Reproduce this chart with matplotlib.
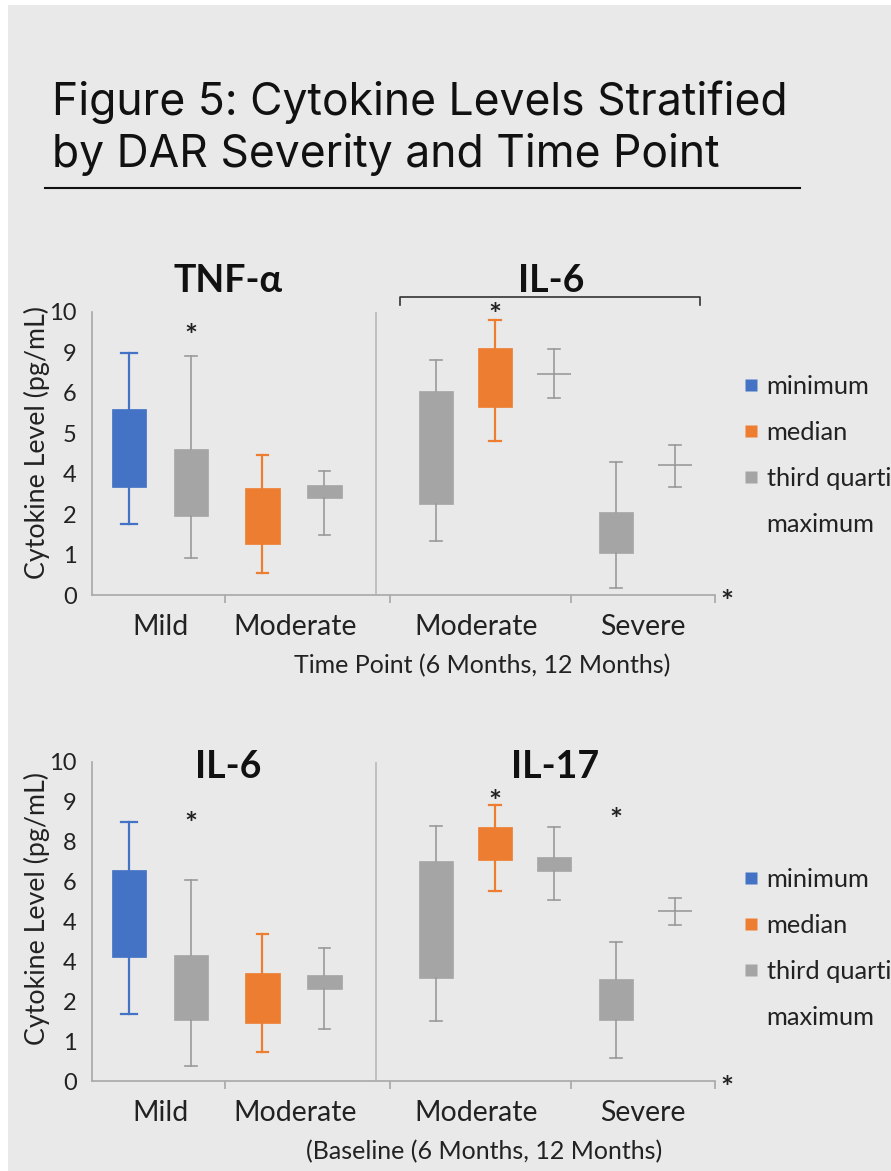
import matplotlib
matplotlib.use("Agg")
import matplotlib.pyplot as plt
from matplotlib.lines import Line2D
from matplotlib.patches import Rectangle

# ---- data (values are read in axis-position units; tick labels as printed) ----
cat_labels = ["Mild", "Moderate", "Moderate", "Severe"]
legend_labels = ["minimum", "median", "third quartile", "maximum"]

top_yticklabels = ["0", "1", "2", "4", "5", "6", "9", "10"]
bot_yticklabels = ["0", "1", "2", "4", "4", "6", "8", "9", "10"]

# nine boxes per row, left to right
box_kind = ["min", "q3", "med", "q3", "q3", "med", "q3", "q3", "q3"]

top_lo = [1.75, 0.91, 0.55, 1.48, 1.34, 3.81, 4.87, 0.17, 2.66]
top_q1 = [2.67, 1.96, 1.25, 2.39, 2.26, 4.65, 5.46, 1.05, 3.21]
top_q3 = [4.59, 3.61, 2.65, 2.72, 5.03, 6.11, 5.46, 2.04, 3.21]
top_hi = [5.98, 5.91, 3.45, 3.06, 5.80, 6.79, 6.09, 3.28, 3.70]

bot_lo = [1.67, 0.38, 0.73, 1.30, 1.51, 4.77, 4.55, 0.57, 3.92]
bot_q1 = [3.12, 1.54, 1.46, 2.31, 2.59, 5.54, 5.26, 1.52, 4.26]
bot_q3 = [5.28, 3.15, 2.70, 2.66, 5.51, 6.36, 5.61, 2.57, 4.26]
bot_hi = [6.49, 5.05, 3.68, 3.33, 6.40, 6.91, 6.36, 3.48, 4.60]

# significance stars: (box index, level)
top_stars = [(1, 6.58), (5, 7.09)]
bot_stars = [(1, 6.61), (5, 7.17), (7, 6.72)]

# ---- styling ----
W, H = 891, 1171
BLUE, ORANGE, GREY = "#4472C4", "#ED7D31", "#A5A5A5"
WHISK_GREY = "#9a9a9a"
kind_color = {"min": BLUE, "med": ORANGE, "q3": GREY}
FONT = ["Lato", "DejaVu Sans"]

xpos = [0.6, 1.6, 2.75, 3.75, 5.55, 6.5, 7.45, 8.45, 9.4]
cat_x = [1.1, 3.27, 6.2, 8.89]
sep_ticks = [2.15, 4.81, 7.73, 10.05]
divider_x = 4.58

plt.rcParams["font.family"] = FONT


def fx(px):
    return px / W


def fy(py):
    return 1 - py / H


fig = plt.figure(figsize=(W / 100, H / 100), dpi=100, facecolor="white")
fig.patches.append(Rectangle((fx(8), 0), 1, fy(5), transform=fig.transFigure,
                             facecolor="#e9e9e9", edgecolor="none", zorder=-10))

# main title
fig.text(fx(52), fy(115), "Figure 5: Cytokine Levels Stratified", fontsize=32,
         family=["Inter", "DejaVu Sans"], va="baseline", ha="left", color="#111")
fig.text(fx(52), fy(167), "by DAR Severity and Time Point", fontsize=32,
         family=["Inter", "DejaVu Sans"], va="baseline", ha="left", color="#111")
fig.lines.append(Line2D([fx(45), fx(800)], [fy(187.5), fy(187.5)],
                        transform=fig.transFigure, color="#111", lw=1.5))


def draw_row(ax, lo, q1, q3, hi, stars, yticklabels, titles, xlabel):
    ntop = len(yticklabels) - 1
    unit = ax.bbox.height / ntop  # pixels per level unit
    stats = []
    for a, b, c, d in zip(lo, q1, q3, hi):
        stats.append(dict(whislo=a, q1=b, med=(b + c) / 2, q3=c, whishi=d, fliers=[]))
    capw = [0.26 if k == "min" else 0.19 for k in box_kind]
    art = ax.bxp(stats, positions=xpos, widths=0.55, patch_artist=True,
                 showfliers=False, capwidths=capw, manage_ticks=False)
    for i, k in enumerate(box_kind):
        col = kind_color[k]
        wcol = col if k != "q3" else WHISK_GREY
        flat = q1[i] == q3[i]
        box = art["boxes"][i]
        box.set_facecolor(col)
        box.set_edgecolor(WHISK_GREY if flat else col)
        box.set_linewidth(1.2 if flat else 0.5)
        art["medians"][i].set_visible(False)
        for w in art["whiskers"][2 * i:2 * i + 2] + art["caps"][2 * i:2 * i + 2]:
            w.set_color(wcol)
            w.set_linewidth(1.6 if k != "q3" else 1.2)

    # '*' glyph sits high in its line box: shift the anchor down ~8 px
    shift = 8 / unit
    for i, lvl in stars:
        ax.text(xpos[i], lvl - shift, "*", ha="center", va="center",
                fontsize=22, fontweight="bold", color="#222", clip_on=False)
    ax.text(10.24, 0.0 - shift, "*", ha="center", va="center", fontsize=22,
            fontweight="bold", color="#222", clip_on=False)

    ax.plot([divider_x, divider_x], [0, ntop], color="#b4b4b4", lw=1.1)

    ax.set_xlim(0, 10.05)
    ax.set_ylim(0, ntop)
    ax.set_facecolor("none")
    for s in ("top", "right"):
        ax.spines[s].set_visible(False)
    for s in ("left", "bottom"):
        ax.spines[s].set_color("#a8a8a8")
        ax.spines[s].set_linewidth(1.2)

    ax.set_yticks(range(ntop + 1))
    ax.set_yticklabels(yticklabels)
    ax.tick_params(axis="y", length=0, pad=11, labelsize=17, labelcolor="#222")

    ax.set_xticks(sep_ticks)
    ax.set_xticklabels([])
    ax.tick_params(axis="x", which="major", length=6, width=1.2, color="#a8a8a8")
    ax.set_xticks(cat_x, minor=True)
    ax.set_xticklabels(cat_labels, minor=True)
    ax.tick_params(axis="x", which="minor", length=0, pad=14, labelsize=20.5,
                   labelcolor="#222")

    ax.set_ylabel("Cytokine Level (pg/mL)", fontsize=19.3, color="#222")
    ax.yaxis.set_label_coords(-0.067, 0.54)

    for (tx, ty, tt) in titles:
        ax.text(tx, ty, tt, ha="center", va="baseline", fontsize=27,
                fontweight="bold", color="#111", clip_on=False)

    ax.set_xlabel(xlabel[0], fontsize=18, color="#222")
    ax.xaxis.label.set_va("baseline")
    ax.xaxis.set_label_coords(xlabel[1], xlabel[2])

    handles = [Line2D([], [], ls="none", marker="s", markersize=8,
                      markerfacecolor=c, markeredgecolor="none")
               for c in (BLUE, ORANGE, GREY)]
    handles.append(Line2D([], [], ls="none"))
    return handles


leg_kw = dict(loc="upper left", frameon=False, fontsize=18.3, handlelength=0.6,
              handletextpad=0.3, labelspacing=0.91, borderpad=0, borderaxespad=0,
              labelcolor="#222")

ax1 = fig.add_axes([fx(92), fy(595), (715 - 92) / W, (595 - 311.7) / H])
h = draw_row(ax1, top_lo, top_q1, top_q3, top_hi, top_stars, top_yticklabels,
             [(2.19, 7.49, "TNF-α"), (7.41, 7.49, "IL-6")],
             ("Time Point (6 Months, 12 Months)", 0.627, -0.277))
ax1.plot([4.97, 4.97, 9.81, 9.81], [7.16, 7.37, 7.37, 7.16], color="#333",
         lw=1.2, clip_on=False)
ax1.legend(h, legend_labels, bbox_to_anchor=(1.046, 0.777), **leg_kw)

ax2 = fig.add_axes([fx(92), fy(1081), (715 - 92) / W, (1081 - 762) / H])
h = draw_row(ax2, bot_lo, bot_q1, bot_q3, bot_hi, bot_stars, bot_yticklabels,
             [(2.19, 7.59, "IL-6"), (7.47, 7.59, "IL-17")],
             ("(Baseline (6 Months, 12 Months)", 0.629, -0.245))
ax2.legend(h, legend_labels, bbox_to_anchor=(1.046, 0.669), **leg_kw)

fig.savefig("out.png", dpi=100, facecolor=fig.get_facecolor())
